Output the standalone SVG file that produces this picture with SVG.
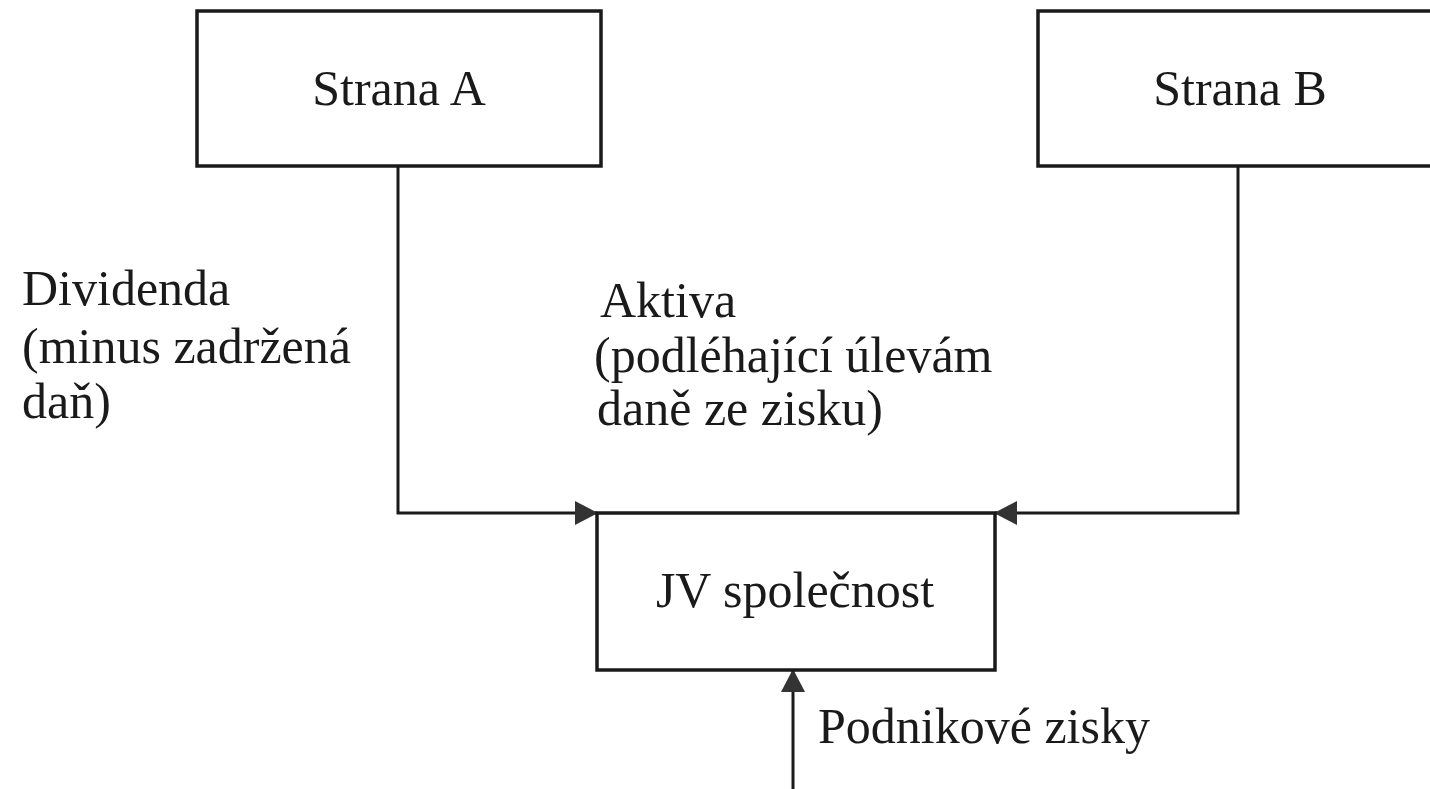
<svg xmlns="http://www.w3.org/2000/svg" width="1430" height="789" viewBox="0 0 1430 789">
<style>
.box{fill:#fff;stroke:#1a1a1a;stroke-width:3.5}
.conn{fill:none;stroke:#1a1a1a;stroke-width:3}
text{font-family:"Liberation Serif","Times New Roman",serif;font-size:50px;fill:#1a1a1a}
.c{text-anchor:middle}
</style>
<defs>
<marker id="arr" markerUnits="userSpaceOnUse" markerWidth="24" markerHeight="26" refX="22" refY="12" orient="auto">
<path d="M0,0 L23,12 L0,24 z" fill="#333"/>
</marker>
</defs>
<rect width="1430" height="789" fill="#fff"/>
<g id="connectors">
<path class="conn" d="M398,166 V513 H597" marker-end="url(#arr)"/>
<path class="conn" d="M1238,166 V513 H995" marker-end="url(#arr)"/>
<path class="conn" d="M793,789 V670" marker-end="url(#arr)"/>
</g>
<g id="stranaA">
<rect class="box" x="197" y="11" width="404" height="155"/>
<text class="c" x="399" y="105">Strana A</text>
</g>
<g id="stranaB">
<rect class="box" x="1038" y="11" width="404" height="155"/>
<text class="c" x="1240" y="105">Strana B</text>
</g>
<g id="jv">
<rect class="box" x="597" y="513" width="398" height="157"/>
<text class="c" x="795" y="607">JV společnost</text>
</g>
<g id="labels">
<text x="22" y="305">Dividenda</text>
<text x="22" y="363">(minus zadržená</text>
<text x="22" y="418">daň)</text>
<text x="600" y="317">Aktiva</text>
<text x="594" y="372">(podléhající úlevám</text>
<text x="597" y="425">daně ze zisku)</text>
<text x="818" y="743">Podnikové zisky</text>
</g>
</svg>
